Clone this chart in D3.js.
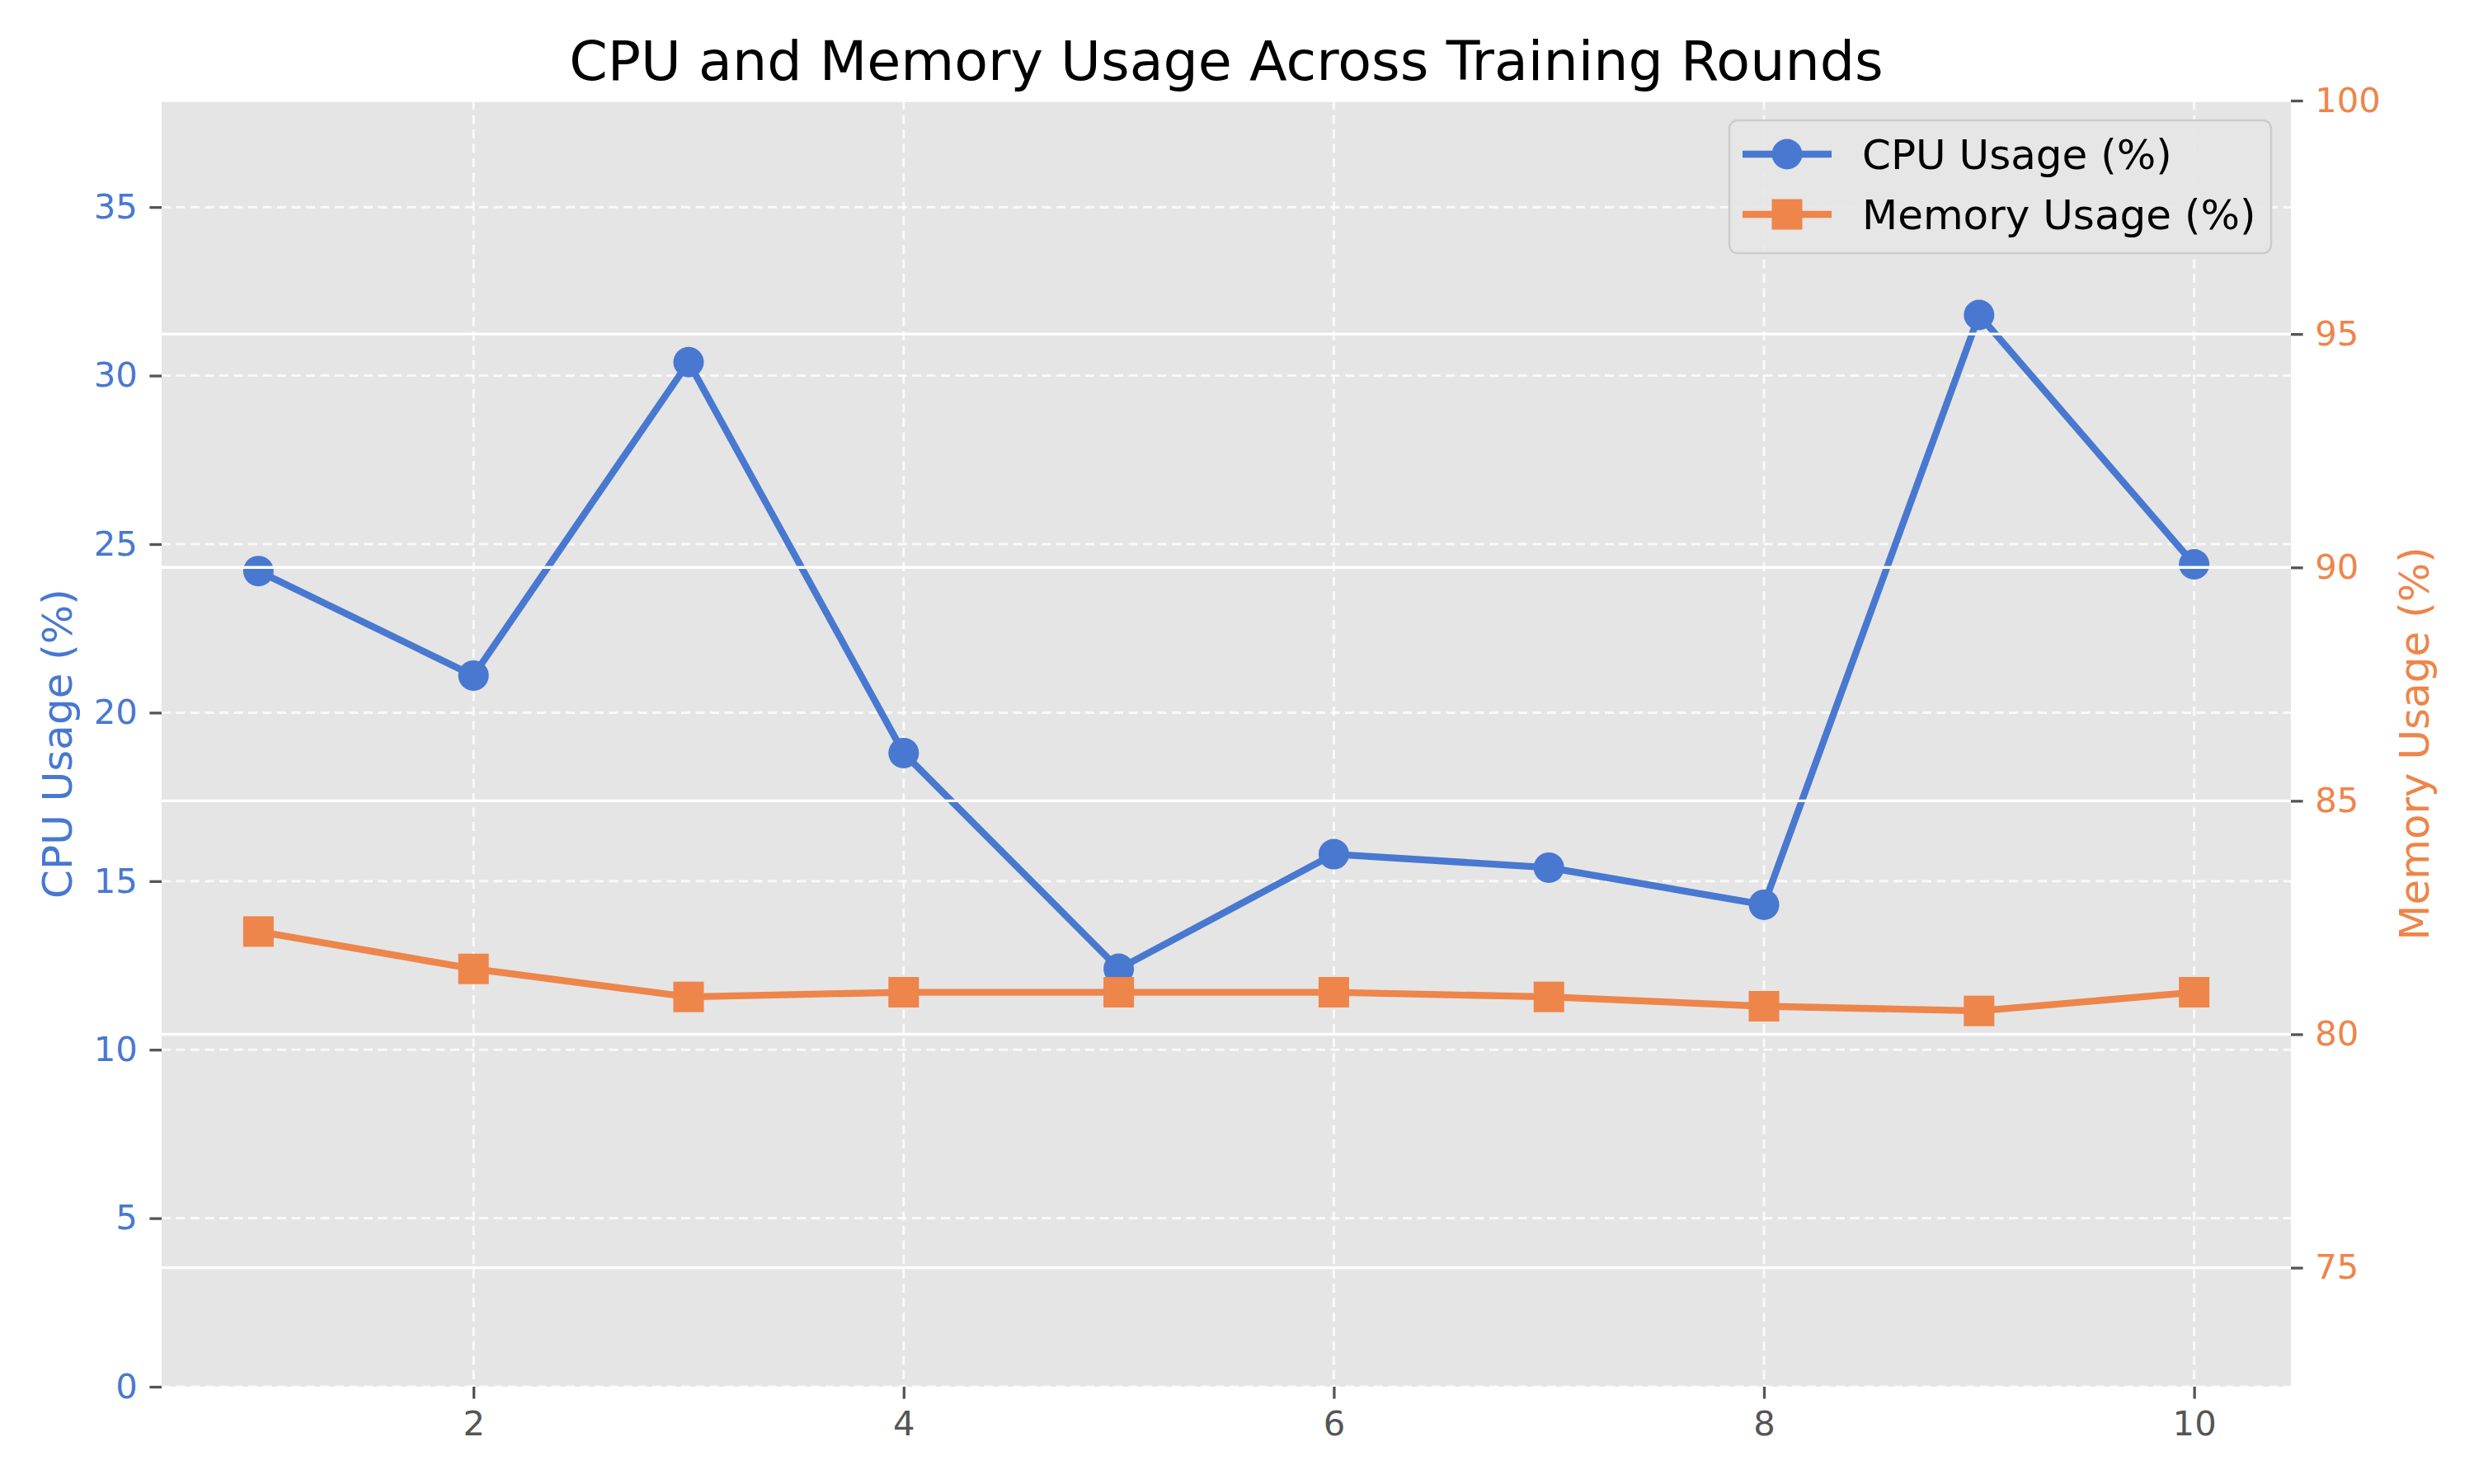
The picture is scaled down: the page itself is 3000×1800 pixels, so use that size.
<!DOCTYPE html>
<html>
<head>
<meta charset="utf-8">
<script src="https://cdn.jsdelivr.net/npm/d3@7"></script>
<style>
  html, body { margin: 0; padding: 0; background: #fff; }
  svg { display: block; font-family: "DejaVu Sans", sans-serif; }
</style>
</head>
<body>
<div id="chart"></div>
<script>
// data
const rounds = [1, 2, 3, 4, 5, 6, 7, 8, 9, 10];
const cpuUsage = [24.2, 21.1, 30.4, 18.8, 12.4, 15.8, 15.4, 14.3, 31.8, 24.4];
const memoryUsage = [82.2, 81.4, 80.8, 80.9, 80.9, 80.9, 80.8, 80.6, 80.5, 80.9];

const roundTicks = [2, 4, 6, 8, 10];
const cpuTicks = [0, 5, 10, 15, 20, 25, 30, 35];
const memTicks = [75, 80, 85, 90, 95, 100];

const BLUE = "#4878d0";
const ORANGE = "#ee854a";
const WIDTH = 3000, HEIGHT = 1800;
const PLOT = { left: 196, right: 2778, top: 122, bottom: 1682 };
const TICK = 14.6;

const svg = d3.select("#chart").append("svg")
  .attr("width", WIDTH).attr("height", HEIGHT)
  .attr("viewBox", `0 0 ${WIDTH} ${HEIGHT}`);

// scales (matplotlib style margins on x, ylim 0..max*1.2 and min*0.9..100)
const x = d3.scaleLinear().domain([0.55, 10.45]).range([PLOT.left, PLOT.right]);
const yCpu = d3.scaleLinear().domain([0, d3.max(cpuUsage) * 1.2]).range([PLOT.bottom, PLOT.top]);
const yMem = d3.scaleLinear().domain([d3.min(memoryUsage) * 0.9, 100]).range([PLOT.bottom, PLOT.top]);

// plot background
svg.append("rect")
  .attr("x", PLOT.left).attr("y", PLOT.top)
  .attr("width", PLOT.right - PLOT.left).attr("height", PLOT.bottom - PLOT.top)
  .attr("fill", "#e5e5e5");

// dashed grid of the left axes
const dashGrid = svg.append("g")
  .attr("stroke", "#ffffff").attr("stroke-opacity", 0.75)
  .attr("stroke-width", 3).attr("stroke-dasharray", "11,6.5");
dashGrid.selectAll(".vx").data(roundTicks).enter().append("line")
  .attr("x1", d => x(d)).attr("x2", d => x(d))
  .attr("y1", PLOT.top).attr("y2", PLOT.bottom);
dashGrid.selectAll(".hy").data(cpuTicks).enter().append("line")
  .attr("x1", PLOT.left).attr("x2", PLOT.right)
  .attr("y1", d => yCpu(d)).attr("y2", d => yCpu(d));

// CPU series
const cpuData = rounds.map((r, i) => ({ r, v: cpuUsage[i] }));
svg.append("path")
  .datum(cpuData)
  .attr("fill", "none").attr("stroke", BLUE).attr("stroke-width", 8.3)
  .attr("stroke-linejoin", "round")
  .attr("d", d3.line().x(d => x(d.r)).y(d => yCpu(d.v)));
svg.selectAll(".cpu-pt").data(cpuData).enter().append("circle")
  .attr("cx", d => x(d.r)).attr("cy", d => yCpu(d.v))
  .attr("r", 18.5).attr("fill", BLUE);

// solid grid of the twin (right) axes, drawn above the left axes content
svg.append("g").selectAll("line").data(memTicks).enter().append("line")
  .attr("x1", PLOT.left).attr("x2", PLOT.right)
  .attr("y1", d => yMem(d)).attr("y2", d => yMem(d))
  .attr("stroke", "#ffffff").attr("stroke-width", 3.3);

// memory series
const memData = rounds.map((r, i) => ({ r, v: memoryUsage[i] }));
svg.append("path")
  .datum(memData)
  .attr("fill", "none").attr("stroke", ORANGE).attr("stroke-width", 8.3)
  .attr("stroke-linejoin", "round")
  .attr("d", d3.line().x(d => x(d.r)).y(d => yMem(d.v)));
svg.selectAll(".mem-pt").data(memData).enter().append("rect")
  .attr("x", d => x(d.r) - 18.5).attr("y", d => yMem(d.v) - 18.5)
  .attr("width", 37).attr("height", 37).attr("fill", ORANGE);

// axes
function styleAxis(g, color) {
  g.select(".domain").remove();
  g.selectAll(".tick line").attr("stroke", "#555").attr("stroke-width", 3.3);
  g.selectAll(".tick text").attr("fill", color).attr("font-size", 41.7)
    .attr("font-family", "DejaVu Sans");
}
svg.append("g")
  .attr("transform", `translate(0,${PLOT.bottom})`)
  .call(d3.axisBottom(x).tickValues(roundTicks).tickFormat(d3.format("d"))
    .tickSize(TICK).tickPadding(TICK))
  .call(g => styleAxis(g, "#555"));
svg.append("g")
  .attr("transform", `translate(${PLOT.left},0)`)
  .call(d3.axisLeft(yCpu).tickValues(cpuTicks).tickFormat(d3.format("d"))
    .tickSize(TICK).tickPadding(TICK))
  .call(g => styleAxis(g, BLUE));
svg.append("g")
  .attr("transform", `translate(${PLOT.right},0)`)
  .call(d3.axisRight(yMem).tickValues(memTicks).tickFormat(d3.format("d"))
    .tickSize(TICK).tickPadding(TICK))
  .call(g => styleAxis(g, ORANGE));

// titles
const midY = (PLOT.top + PLOT.bottom) / 2;
svg.append("text")
  .attr("x", (PLOT.left + PLOT.right) / 2).attr("y", 97)
  .attr("text-anchor", "middle").attr("font-size", 66.7).attr("fill", "#000")
  .text("CPU and Memory Usage Across Training Rounds");
svg.append("text")
  .attr("transform", `translate(87,${midY})rotate(-90)`)
  .attr("text-anchor", "middle").attr("font-size", 50).attr("fill", BLUE)
  .text("CPU Usage (%)");
svg.append("text")
  .attr("transform", `translate(2945,${midY})rotate(-90)`)
  .attr("text-anchor", "middle").attr("font-size", 50).attr("fill", ORANGE)
  .text("Memory Usage (%)");

// legend
const legendItems = [
  { label: "CPU Usage (%)", color: BLUE, shape: "circle" },
  { label: "Memory Usage (%)", color: ORANGE, shape: "square" }
];
const legend = svg.append("g").attr("transform", "translate(2097,146)");
legend.append("rect")
  .attr("width", 657).attr("height", 161).attr("rx", 10)
  .attr("fill", "#e5e5e5").attr("fill-opacity", 0.9)
  .attr("stroke", "#cccccc").attr("stroke-width", 2.5);
const rows = legend.selectAll(".item").data(legendItems).enter().append("g")
  .attr("transform", (d, i) => `translate(0,${41 + i * 73})`);
rows.append("line")
  .attr("x1", 16).attr("x2", 124).attr("stroke", d => d.color).attr("stroke-width", 8.3);
rows.filter(d => d.shape === "circle").append("circle")
  .attr("cx", 70).attr("r", 18.5).attr("fill", d => d.color);
rows.filter(d => d.shape === "square").append("rect")
  .attr("x", 51.5).attr("y", -18.5).attr("width", 37).attr("height", 37)
  .attr("fill", d => d.color);
rows.append("text")
  .attr("x", 161).attr("dy", "0.36em").attr("font-size", 50).attr("fill", "#000")
  .text(d => d.label);
</script>
</body>
</html>
